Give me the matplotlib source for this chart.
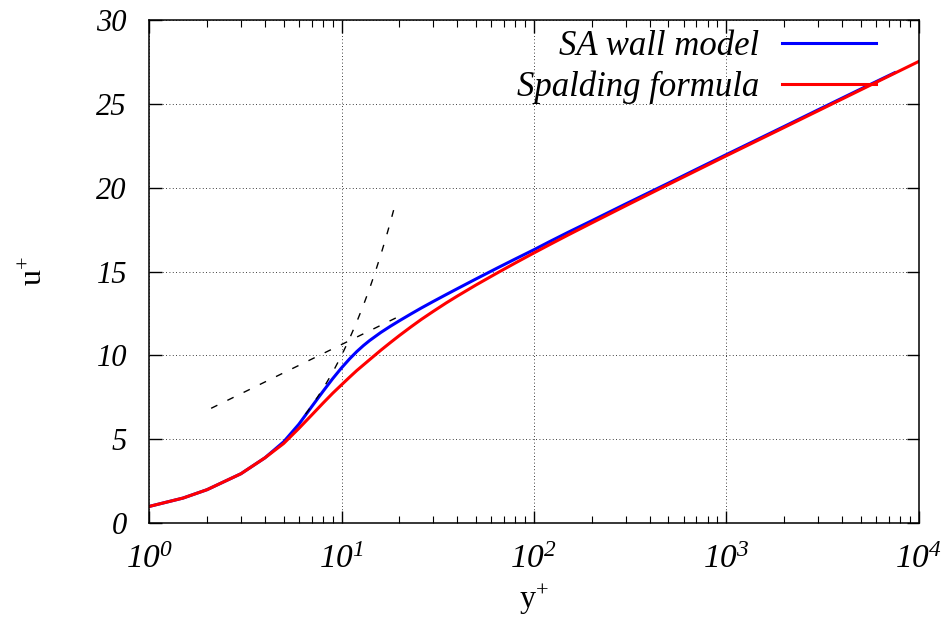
import matplotlib.pyplot as plt
from matplotlib.ticker import LogLocator, NullFormatter

# values
yplus_sa = [1, 1.5, 2, 3, 4, 5, 6, 7, 8, 9, 10, 11, 12, 13, 14, 16, 18, 20,
            23, 26, 30, 35, 40, 50, 65, 80, 100, 120, 150, 200, 300, 500, 700,
            1000, 2000, 3000, 5000, 7500]
uplus_sa = [1.0, 1.5, 2.0, 2.95, 3.9, 4.85, 5.9, 6.95, 7.85, 8.62, 9.26, 9.79,
            10.23, 10.59, 10.89, 11.37, 11.75, 12.07, 12.48, 12.83, 13.22,
            13.63, 13.98, 14.56, 15.23, 15.75, 16.3, 16.77, 17.33, 18.03,
            19.03, 20.27, 21.1, 21.97, 23.65, 24.64, 25.88, 26.85]

yplus_sp = [1, 1.5, 2, 3, 4, 5, 6, 7, 8, 9, 10, 11, 12, 14, 16, 18, 20, 23,
            26, 30, 35, 40, 50, 65, 80, 100, 120, 150, 200, 300, 500, 700,
            1000, 2000, 3000, 5000, 10000]
uplus_sp = [1.0, 1.5, 2.0, 2.95, 3.9, 4.75, 5.65, 6.45, 7.15, 7.75, 8.25, 8.7,
            9.1, 9.75, 10.31, 10.78, 11.19, 11.71, 12.15, 12.63, 13.13, 13.54,
            14.2, 14.94, 15.51, 16.11, 16.59, 17.17, 17.9, 18.92, 20.19, 21.02,
            21.9, 23.59, 24.58, 25.83, 27.52]

# viscous sublayer u+ = y+ and log law guide lines
yplus_visc = [6.5, 7, 8, 9, 10, 11, 12, 13, 14, 15, 16, 17, 18, 19]
uplus_visc = [6.5, 7, 8, 9, 10, 11, 12, 13, 14, 15, 16, 17, 18, 19]
yplus_log = [2.1, 20.5]
uplus_log = [6.85, 12.4]

xtick_vals = [1, 10, 100, 1000, 10000]
xtick_labels = [r'$10^{%d}$' % i for i in range(5)]
ytick_vals = [0, 5, 10, 15, 20, 25, 30]

plt.rcParams['font.family'] = 'Liberation Serif'
plt.rcParams['mathtext.fontset'] = 'custom'
plt.rcParams['mathtext.rm'] = 'Liberation Serif:italic'
plt.rcParams['mathtext.it'] = 'Liberation Serif:italic'
plt.rcParams['mathtext.sf'] = 'Liberation Serif'

fig, ax = plt.subplots(figsize=(9.5, 6.42), dpi=100)
fig.subplots_adjust(left=0.157, right=0.967, bottom=0.185, top=0.969)

ax.plot(yplus_sa, uplus_sa, color='blue', lw=2.2, label='SA wall model')
ax.plot(yplus_sp, uplus_sp, color='red', lw=2.2, label='Spalding formula')
ax.plot(yplus_visc, uplus_visc, color='black', lw=1.0, ls=(0, (5, 8)))
ax.plot(yplus_log, uplus_log, color='black', lw=1.0, ls=(0, (5, 8)))

ax.set_xscale('log')
ax.set_xlim(1, 1e4)
ax.set_ylim(0, 30)
ax.set_xticks(xtick_vals)
ax.set_xticklabels(xtick_labels, fontsize=24)
ax.xaxis.set_minor_locator(LogLocator(base=10, subs=range(2, 10)))
ax.xaxis.set_minor_formatter(NullFormatter())
ax.set_yticks(ytick_vals)
ax.set_yticklabels([str(v) for v in ytick_vals], fontstyle='italic', fontsize=22)

ax.tick_params(which='major', direction='in', top=True, right=True,
               length=9, width=1)
ax.tick_params(axis='x', which='major', pad=15)
ax.tick_params(axis='y', which='major', pad=16)
ax.tick_params(which='minor', direction='in', top=True, length=5, width=0.8)
for s in ax.spines.values():
    s.set_linewidth(1.1)

ax.grid(True, which='major', color='black', lw=0.6, ls=(0, (1, 3)))

ax.set_xlabel(r'y$^{\mathsf{+}}$', fontsize=23, labelpad=6)
ax.set_ylabel(r'u$^{\mathsf{+}}$', fontsize=23, labelpad=34)

ax.legend(loc='upper right', bbox_to_anchor=(0.944, 0.98), frameon=False,
          markerfirst=False, handlelength=2.7, handletextpad=0.65,
          borderpad=0, borderaxespad=0, labelspacing=0.22,
          prop={'family': 'Liberation Serif', 'style': 'italic', 'size': 25})

plt.savefig('out.png')
